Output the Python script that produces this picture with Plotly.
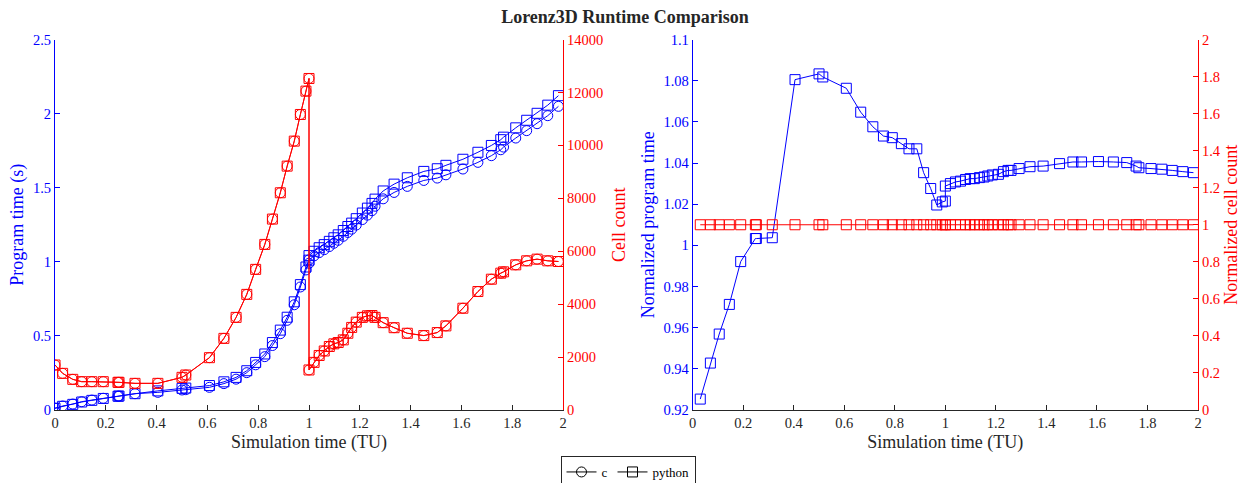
import plotly.graph_objects as go

# ---------------- data ----------------
t = [0, 0.03, 0.07, 0.105, 0.145, 0.19, 0.248, 0.252, 0.315, 0.405, 0.5, 0.515,
     0.608, 0.665, 0.713, 0.755, 0.79, 0.826, 0.856, 0.887, 0.914, 0.942, 0.966,
     0.988, 1.0,
     1.0, 1.02, 1.04, 1.06, 1.08, 1.098, 1.115, 1.135, 1.153, 1.168, 1.186, 1.21,
     1.23, 1.248, 1.26, 1.292, 1.335, 1.387, 1.452, 1.505, 1.539, 1.606, 1.665,
     1.718, 1.755, 1.766, 1.814, 1.857, 1.898, 1.94, 1.982]

c_time = [0.012, 0.027, 0.040, 0.056, 0.067, 0.079, 0.093, 0.094, 0.110, 0.119,
          0.135, 0.137, 0.153, 0.178, 0.208, 0.252, 0.305, 0.36, 0.435, 0.515,
          0.605, 0.71, 0.83, 0.945, 0.99,
          1.013, 1.04, 1.062, 1.082, 1.103, 1.125, 1.145, 1.172, 1.198, 1.22,
          1.248, 1.285, 1.315, 1.345, 1.375, 1.425, 1.468, 1.509, 1.549, 1.565,
          1.587, 1.626, 1.671, 1.716, 1.756, 1.774, 1.835, 1.885, 1.932, 1.986,
          2.049]

python_time = [0.012, 0.025, 0.038, 0.054, 0.065, 0.078, 0.093, 0.094, 0.110,
               0.129, 0.146, 0.148, 0.165, 0.190, 0.220, 0.265, 0.321, 0.378,
               0.455, 0.539, 0.626, 0.730, 0.846, 0.965, 1.011,
               1.042, 1.071, 1.095, 1.116, 1.138, 1.162, 1.182, 1.211, 1.238,
               1.261, 1.291, 1.329, 1.362, 1.394, 1.423, 1.478, 1.524, 1.567,
               1.610, 1.628, 1.651, 1.692, 1.739, 1.785, 1.824, 1.841, 1.904,
               1.955, 2.002, 2.057, 2.121]

cells = [1700, 1385, 1158, 1070, 1070, 1070, 1045, 1045, 1007, 1007, 1234, 1322,
         1977, 2707, 3500, 4369, 5314, 6257, 7214, 8208, 9216, 10160, 11167,
         12050, 12527,
         1513, 1800, 2060, 2230, 2400, 2500, 2550, 2650, 2900, 3120, 3320, 3500,
         3560, 3570, 3500, 3300, 3110, 2900, 2812, 2926, 3178, 3846, 4477, 4943,
         5170, 5221, 5485, 5637, 5700, 5637, 5611]

t_norm = t[1:]
norm_time = [0.9253, 0.9428, 0.9569, 0.9713, 0.9921, 1.0033, 1.0033, 1.0037,
             1.0805, 1.0833, 1.0818, 1.0763, 1.0647, 1.0576, 1.0531, 1.0523,
             1.0494, 1.0469, 1.0469, 1.0353, 1.0276, 1.0196, 1.0211, 1.0215,
             1.0288, 1.0300, 1.0308, 1.0312, 1.0320, 1.0324, 1.0324, 1.0329,
             1.0332, 1.0337, 1.0342, 1.0345, 1.0358, 1.0364, 1.0364, 1.0373,
             1.0382, 1.0385, 1.0397, 1.0405, 1.0405, 1.0407, 1.0405, 1.0402,
             1.0385, 1.0377, 1.0373, 1.0370, 1.0364, 1.0358, 1.0353]
norm_cells = [1.0, 1.0, 1.0, 1.0, 1.0, 1.0, 1.0, 1.0, 1.0, 1.0, 1.0, 1.0, 1.0,
              1.0, 1.0, 1.0, 1.0, 1.0, 1.0, 1.0, 1.0, 1.0, 1.0, 1.0, 1.0, 1.0,
              1.0, 1.0, 1.0, 1.0, 1.0, 1.0, 1.0, 1.0, 1.0, 1.0, 1.0, 1.0, 1.0,
              1.0, 1.0, 1.0, 1.0, 1.0, 1.0, 1.0, 1.0, 1.0, 1.0, 1.0, 1.0, 1.0,
              1.0, 1.0, 1.0]

x_ticks = [0, 0.2, 0.4, 0.6, 0.8, 1, 1.2, 1.4, 1.6, 1.8, 2]
x_labels = ["0", "0.2", "0.4", "0.6", "0.8", "1", "1.2", "1.4", "1.6", "1.8", "2"]
yt_left = [0, 0.5, 1, 1.5, 2, 2.5]
yl_left = ["0", "0.5", "1", "1.5", "2", "2.5"]
yt_cells = [0, 2000, 4000, 6000, 8000, 10000, 12000, 14000]
yl_cells = ["0", "2000", "4000", "6000", "8000", "10000", "12000", "14000"]
yt_norm = [0.92, 0.94, 0.96, 0.98, 1.0, 1.02, 1.04, 1.06, 1.08, 1.1]
yl_norm = ["0.92", "0.94", "0.96", "0.98", "1", "1.02", "1.04", "1.06", "1.08", "1.1"]
yt_ncell = [0, 0.2, 0.4, 0.6, 0.8, 1, 1.2, 1.4, 1.6, 1.8, 2]
yl_ncell = ["0", "0.2", "0.4", "0.6", "0.8", "1", "1.2", "1.4", "1.6", "1.8", "2"]

# ---------------- styling ----------------
BLUE = "#0000FF"
RED = "#FF0000"
DARK = "#262626"
FONT = "Liberation Serif"
W, H = 1250, 483
MS = 10


def px_x(p):
    return p / W


def px_y(p):
    return 1 - p / H


fig = go.Figure()


def add(x, y, color, symbol, xa, ya):
    fig.add_trace(go.Scatter(
        x=x, y=y, mode="lines+markers", xaxis=xa, yaxis=ya, showlegend=False,
        line=dict(color=color, width=1),
        marker=dict(symbol=symbol, size=MS, color=color,
                    line=dict(color=color, width=1)),
        hoverinfo="skip"))


add(t, c_time, BLUE, "circle-open", "x", "y")
add(t, python_time, BLUE, "square-open", "x", "y")
add(t, cells, RED, "circle-open", "x", "y2")
add(t, cells, RED, "square-open", "x", "y2")
add(t_norm, norm_time, BLUE, "square-open", "x2", "y3")
add(t_norm, norm_cells, RED, "square-open", "x2", "y4")

# legend entries (black)
for name, sym in [("c", "circle-open"), ("python", "square-open")]:
    fig.add_trace(go.Scatter(
        x=[None], y=[None], mode="lines+markers", name=name, xaxis="x", yaxis="y",
        line=dict(color="black", width=1),
        marker=dict(symbol=sym, size=MS, color="black",
                    line=dict(color="black", width=1))))

dom_y = [px_y(410), px_y(39.5)]
titlefont = 18

xcommon = dict(range=[0, 2], tickvals=x_ticks, ticktext=x_labels,
               showgrid=False, zeroline=False, showline=True, linecolor=DARK,
               linewidth=1, ticks="inside", ticklen=5, tickcolor=DARK,
               tickfont=dict(family=FONT, size=14.5, color=DARK),
               automargin=False,
               title=dict(text="Simulation time (TU)",
                          font=dict(family=FONT, size=titlefont, color=DARK),
                          standoff=4))


def yax(color, rng, tv, tt, title, side, anchor, domain=None, overlaying=None,
        standoff=4):
    d = dict(range=rng, tickvals=tv, ticktext=tt, showgrid=False, zeroline=False,
             showline=True, linecolor=color, linewidth=1, ticks="inside",
             ticklen=5, tickcolor=color,
             tickfont=dict(family=FONT, size=14.5, color=color),
             side=side, anchor=anchor, automargin=False,
             title=dict(text=title, font=dict(family=FONT, size=titlefont,
                                              color=color), standoff=standoff))
    if domain is not None:
        d["domain"] = domain
    if overlaying is not None:
        d["overlaying"] = overlaying
    return d


fig.update_layout(
    width=W, height=H,
    margin=dict(l=0, r=0, t=0, b=0, autoexpand=False),
    paper_bgcolor="white", plot_bgcolor="white",
    title=dict(text="Lorenz3D Runtime Comparison", x=0.5, xanchor="center",
               y=px_y(17), yanchor="middle",
               font=dict(family=FONT, size=18, color=DARK, weight="bold")),
    xaxis=dict(domain=[px_x(55), px_x(563)], anchor="y", **xcommon),
    xaxis2=dict(domain=[px_x(692.7), px_x(1198)], anchor="y3", **xcommon),
    yaxis=yax(BLUE, [0, 2.5], yt_left, yl_left, "Program time (s)", "left", "x",
              domain=dom_y),
    yaxis2=yax(RED, [0, 14000], yt_cells, yl_cells, "Cell count", "right", "x",
               overlaying="y", standoff=10),
    yaxis3=yax(BLUE, [0.92, 1.1], yt_norm, yl_norm, "Normalized program time",
               "left", "x2", domain=dom_y),
    yaxis4=yax(RED, [0, 2], yt_ncell, yl_ncell, "Normalized cell count", "right",
               "x2", overlaying="y3", standoff=1),
    legend=dict(orientation="h", x=px_x(628), xanchor="center", y=px_y(456),
                yanchor="top", bordercolor=DARK, borderwidth=1, bgcolor="white",
                font=dict(family=FONT, size=13, color="black"),
                itemwidth=30, tracegroupgap=0),
)

fig.write_html("out.html")
